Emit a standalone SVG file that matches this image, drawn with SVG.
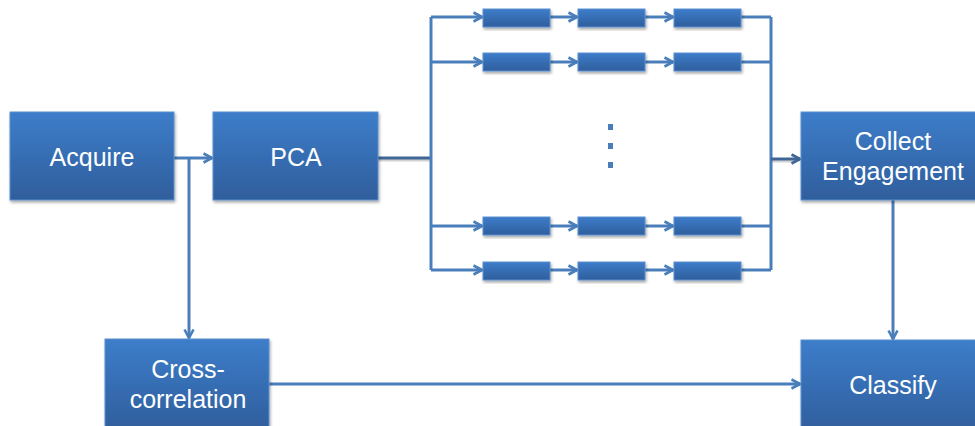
<svg xmlns="http://www.w3.org/2000/svg" width="975" height="426" viewBox="0 0 975 426">
  <defs>
    <linearGradient id="boxFill" x1="0" y1="0" x2="0" y2="1">
      <stop offset="0" stop-color="#3D7DCA"/>
      <stop offset="1" stop-color="#2F5E9C"/>
    </linearGradient>
    <filter id="shadow" x="-10%" y="-10%" width="125%" height="130%">
      <feGaussianBlur in="SourceAlpha" stdDeviation="1.5"/>
      <feOffset dx="1" dy="2" result="b"/>
      <feComponentTransfer><feFuncA type="linear" slope="0.35"/></feComponentTransfer>
      <feMerge><feMergeNode/><feMergeNode in="SourceGraphic"/></feMerge>
    </filter>
    <marker id="arrow" viewBox="0 0 12 12" refX="10.5" refY="6" markerWidth="12" markerHeight="12" markerUnits="userSpaceOnUse" orient="auto">
      <path d="M2,1.5 L10.5,6 L2,10.5" fill="none" stroke="#4A7EBB" stroke-width="2.6" stroke-linejoin="miter"/>
    </marker>
    <marker id="arrowDark" viewBox="0 0 12 12" refX="10.5" refY="6" markerWidth="12" markerHeight="12" markerUnits="userSpaceOnUse" orient="auto">
      <path d="M2,1.5 L10.5,6 L2,10.5" fill="none" stroke="#3F6694" stroke-width="2.6" stroke-linejoin="miter"/>
    </marker>
  </defs>
  <style>
    .box { fill: url(#boxFill); stroke: #5B8FD0; stroke-width: 1; filter: url(#shadow); }
    .lbl { font-family: "Liberation Sans", Arial, sans-serif; font-size: 25px; fill: #FFFFFF; text-anchor: middle; }
    .wire { fill: none; stroke: #4A7EBB; stroke-width: 3; }
    .arr { marker-end: url(#arrow); }
    .dark { fill: none; stroke: #3F6694; stroke-width: 3; }
    .haze { fill: none; stroke: #000000; stroke-opacity: 0.18; stroke-width: 3; }
    .dot { fill: #4A7EBB; }
  </style>

  <!-- connectors -->
  <g id="connectors">
    <!-- Acquire to PCA and down to Cross-correlation -->
    <line class="wire arr" x1="174" y1="158" x2="212" y2="158"/>
    <line class="wire arr" x1="189" y1="158" x2="189" y2="338"/>
    <!-- PCA to fan-out bus -->
    <line class="haze" x1="378" y1="160" x2="431" y2="160"/>
    <line class="dark" x1="378" y1="158" x2="431" y2="158"/>
    <line class="wire" x1="431" y1="17" x2="431" y2="270"/>
    <!-- fan-out into chains -->
    <line class="wire arr" x1="431" y1="17" x2="482" y2="17"/>
    <line class="wire arr" x1="431" y1="62" x2="482" y2="62"/>
    <line class="wire arr" x1="431" y1="226" x2="482" y2="226"/>
    <line class="wire arr" x1="431" y1="270" x2="482" y2="270"/>
    <!-- within chains -->
    <line class="wire arr" x1="550" y1="17" x2="577" y2="17"/>
    <line class="wire arr" x1="645" y1="17" x2="673" y2="17"/>
    <line class="wire arr" x1="550" y1="62" x2="577" y2="62"/>
    <line class="wire arr" x1="645" y1="62" x2="673" y2="62"/>
    <line class="wire arr" x1="550" y1="226" x2="577" y2="226"/>
    <line class="wire arr" x1="645" y1="226" x2="673" y2="226"/>
    <line class="wire arr" x1="550" y1="270" x2="577" y2="270"/>
    <line class="wire arr" x1="645" y1="270" x2="673" y2="270"/>
    <!-- chains to collecting bus -->
    <line class="wire" x1="741" y1="17" x2="771" y2="17"/>
    <line class="wire" x1="741" y1="62" x2="771" y2="62"/>
    <line class="wire" x1="741" y1="226" x2="771" y2="226"/>
    <line class="wire" x1="741" y1="270" x2="771" y2="270"/>
    <line class="wire" x1="771" y1="17" x2="771" y2="270"/>
    <!-- bus to Collect Engagement -->
    <line class="haze" x1="772" y1="161" x2="796" y2="161"/>
    <line class="dark" x1="771" y1="159" x2="800" y2="159" marker-end="url(#arrowDark)"/>
    <!-- Collect Engagement to Classify -->
    <line class="wire arr" x1="893" y1="200" x2="893" y2="339"/>
    <!-- Cross-correlation to Classify -->
    <line class="wire arr" x1="269" y1="384" x2="800" y2="384"/>
  </g>

  <!-- main nodes -->
  <g id="acquire">
    <rect class="box" x="10" y="112" width="164" height="88"/>
    <text class="lbl" x="92" y="166">Acquire</text>
  </g>
  <g id="pca">
    <rect class="box" x="213" y="112" width="165" height="88"/>
    <text class="lbl" x="296" y="166">PCA</text>
  </g>
  <g id="collect-engagement">
    <rect class="box" x="801" y="112" width="184" height="88"/>
    <text class="lbl" x="893" y="150">Collect</text>
    <text class="lbl" x="893" y="180">Engagement</text>
  </g>
  <g id="cross-correlation">
    <rect class="box" x="105" y="339" width="164" height="92"/>
    <text class="lbl" x="188" y="378">Cross-</text>
    <text class="lbl" x="188" y="408">correlation</text>
  </g>
  <g id="classify">
    <rect class="box" x="801" y="340" width="184" height="92"/>
    <text class="lbl" x="893" y="394">Classify</text>
  </g>

  <!-- processing chains -->
  <g id="chain-1">
    <rect class="box" x="483" y="9" width="67" height="18"/>
    <rect class="box" x="578" y="9" width="67" height="18"/>
    <rect class="box" x="674" y="9" width="67" height="18"/>
  </g>
  <g id="chain-2">
    <rect class="box" x="483" y="53" width="67" height="18"/>
    <rect class="box" x="578" y="53" width="67" height="18"/>
    <rect class="box" x="674" y="53" width="67" height="18"/>
  </g>
  <g id="chain-3">
    <rect class="box" x="483" y="217" width="67" height="18"/>
    <rect class="box" x="578" y="217" width="67" height="18"/>
    <rect class="box" x="674" y="217" width="67" height="18"/>
  </g>
  <g id="chain-4">
    <rect class="box" x="483" y="262" width="67" height="18"/>
    <rect class="box" x="578" y="262" width="67" height="18"/>
    <rect class="box" x="674" y="262" width="67" height="18"/>
  </g>

  <!-- vertical ellipsis -->
  <g id="ellipsis">
    <rect class="dot" x="608" y="124" width="5" height="6"/>
    <rect class="dot" x="608" y="143" width="5" height="6"/>
    <rect class="dot" x="608" y="162" width="5" height="6"/>
  </g>
</svg>
